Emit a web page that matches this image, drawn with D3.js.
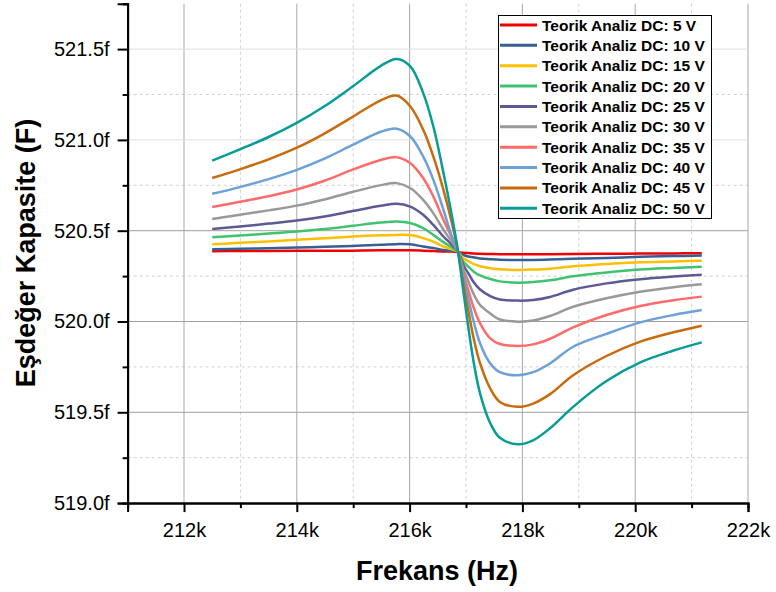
<!DOCTYPE html>
<html>
<head>
<meta charset="utf-8">
<script src="https://cdn.jsdelivr.net/npm/d3@7"></script>
<style>
  body { margin: 0; background: #fff; }
  svg { font-family: Arial, "Liberation Sans", sans-serif; }
  .axis path, .axis line { stroke: #000; stroke-width: 2; }
  .axis text { font-size: 20px; fill: #000; }
</style>
</head>
<body>
<div id="chart"></div>
<script>
// frequency in kHz
const freqs = [212.5, 212.99, 213.5, 214.0, 214.49, 214.99, 215.49, 215.77, 216.01, 216.24,
  216.42, 216.6, 216.75, 216.86, 216.95, 217.04, 217.13, 217.25, 217.43, 217.6,
  217.92, 218.19, 218.49, 218.9, 219.49, 220.09, 220.68, 221.18];

// equivalent capacitance in fF, one array per DC voltage
const cap05 = [520.387, 520.388, 520.388, 520.389, 520.389, 520.390, 520.392, 520.392, 520.392, 520.390,
  520.388, 520.386, 520.385, 520.382, 520.379, 520.377, 520.375, 520.373, 520.372, 520.371,
  520.370, 520.370, 520.371, 520.372, 520.373, 520.374, 520.375, 520.376];
const cap10 = [520.398, 520.400, 520.404, 520.407, 520.412, 520.416, 520.422, 520.426, 520.425, 520.413,
  520.405, 520.394, 520.389, 520.383, 520.367, 520.358, 520.354, 520.347, 520.343, 520.340,
  520.339, 520.339, 520.341, 520.345, 520.350, 520.356, 520.360, 520.363];
const cap15 = [520.426, 520.433, 520.441, 520.450, 520.458, 520.468, 520.475, 520.477, 520.476, 520.459,
  520.440, 520.413, 520.397, 520.383, 520.349, 520.332, 520.317, 520.304, 520.293, 520.288,
  520.284, 520.286, 520.291, 520.304, 520.317, 520.326, 520.331, 520.335];
const cap20 = [520.464, 520.473, 520.484, 520.495, 520.509, 520.527, 520.545, 520.551, 520.542, 520.514,
  520.477, 520.437, 520.408, 520.383, 520.330, 520.302, 520.276, 520.254, 520.234, 520.221,
  520.214, 520.217, 520.227, 520.249, 520.270, 520.286, 520.295, 520.302];
const cap25 = [520.509, 520.523, 520.539, 520.556, 520.578, 520.608, 520.637, 520.648, 520.633, 520.588,
  520.532, 520.468, 520.422, 520.383, 520.312, 520.266, 520.219, 520.176, 520.140, 520.121,
  520.115, 520.118, 520.135, 520.175, 520.210, 520.233, 520.248, 520.258];
const cap30 = [520.564, 520.588, 520.612, 520.638, 520.672, 520.713, 520.751, 520.762, 520.735, 520.670,
  520.597, 520.505, 520.439, 520.383, 520.293, 520.222, 520.155, 520.091, 520.044, 520.011,
  519.999, 520.005, 520.030, 520.081, 520.128, 520.164, 520.189, 520.205];
const cap35 = [520.630, 520.659, 520.690, 520.727, 520.775, 520.836, 520.889, 520.905, 520.873, 520.790,
  520.689, 520.560, 520.461, 520.383, 520.266, 520.174, 520.081, 519.990, 519.907, 519.876,
  519.865, 519.874, 519.905, 519.968, 520.036, 520.085, 520.117, 520.137];
const cap40 = [520.703, 520.740, 520.784, 520.835, 520.897, 520.972, 521.045, 521.062, 521.020, 520.909,
  520.781, 520.615, 520.468, 520.383, 520.247, 520.128, 520.008, 519.879, 519.769, 519.721,
  519.704, 519.721, 519.769, 519.861, 519.932, 519.995, 520.036, 520.063];
const cap45 = [520.790, 520.838, 520.893, 520.957, 521.035, 521.127, 521.218, 521.244, 521.185, 521.057,
  520.909, 520.725, 520.542, 520.383, 520.211, 520.063, 519.916, 519.769, 519.631, 519.557,
  519.530, 519.548, 519.600, 519.704, 519.810, 519.889, 519.941, 519.977];
const cap50 = [520.886, 520.948, 521.016, 521.094, 521.185, 521.294, 521.408, 521.446, 521.406, 521.259,
  521.075, 520.819, 520.582, 520.383, 520.174, 519.971, 519.787, 519.603, 519.440, 519.360,
  519.324, 519.346, 519.412, 519.530, 519.672, 519.775, 519.840, 519.885];

const labels = ['Teorik Analiz DC: 5 V', 'Teorik Analiz DC: 10 V', 'Teorik Analiz DC: 15 V',
  'Teorik Analiz DC: 20 V', 'Teorik Analiz DC: 25 V', 'Teorik Analiz DC: 30 V',
  'Teorik Analiz DC: 35 V', 'Teorik Analiz DC: 40 V', 'Teorik Analiz DC: 45 V',
  'Teorik Analiz DC: 50 V'];
const colors = ['#f00000', '#365f93', '#fcc000', '#3fc36e', '#5b5a94',
  '#999999', '#ff6b6b', '#6ca0d8', '#c96a0c', '#079d96'];

const xMajor = [212, 214, 216, 218, 220, 222];
const xMinor = [211, 213, 215, 217, 219, 221];
const yMajor = [519.0, 519.5, 520.0, 520.5, 521.0, 521.5];
const yMinor = [519.25, 519.75, 520.25, 520.75, 521.25, 521.75];

const series = [cap05, cap10, cap15, cap20, cap25, cap30, cap35, cap40, cap45, cap50]
  .map((vals, i) => ({
    label: labels[i],
    color: colors[i],
    points: vals.map((v, j) => ({ f: freqs[j], c: v }))
  }));

const width = 776, height = 592;
const plot = { left: 127.6, right: 748, top: 3.7, bottom: 503.1 };

const svg = d3.select('#chart').append('svg')
  .attr('width', width).attr('height', height);

const x = d3.scaleLinear().domain([211, 222]).range([plot.left, plot.right]);
const y = d3.scaleLinear().domain([519, 521.75]).range([plot.bottom, plot.top]);

// grid
const grid = svg.append('g');
grid.selectAll('.vmin').data(xMinor.slice(1)).enter().append('line')
  .attr('x1', d => x(d)).attr('x2', d => x(d))
  .attr('y1', plot.top).attr('y2', plot.bottom)
  .attr('stroke', '#d0d0d0').attr('stroke-dasharray', '3,3');
grid.selectAll('.hmin').data(yMinor.slice(0, -1)).enter().append('line')
  .attr('x1', plot.left).attr('x2', plot.right)
  .attr('y1', d => y(d)).attr('y2', d => y(d))
  .attr('stroke', '#d0d0d0').attr('stroke-dasharray', '3,3');
grid.selectAll('.vmaj').data(xMajor).enter().append('line')
  .attr('x1', d => x(d)).attr('x2', d => x(d))
  .attr('y1', plot.top).attr('y2', plot.bottom)
  .attr('stroke', '#a8a8a8');
grid.selectAll('.hmaj').data(yMajor.slice(1)).enter().append('line')
  .attr('x1', plot.left).attr('x2', plot.right)
  .attr('y1', d => y(d)).attr('y2', d => y(d))
  .attr('stroke', d => d > 520.75 ? '#e0e0e0' : '#a0a0a0');

// curves
const line = d3.line()
  .x(d => x(d.f))
  .y(d => y(d.c))
  .curve(d3.curveCatmullRom.alpha(0.5));

svg.append('g').selectAll('path')
  .data(series)
  .enter().append('path')
    .attr('d', d => line(d.points))
    .attr('fill', 'none')
    .attr('stroke', d => d.color)
    .attr('stroke-width', 2.5);

// axes
svg.append('g').attr('class', 'axis')
  .attr('transform', 'translate(0,' + plot.bottom + ')')
  .call(d3.axisBottom(x).tickValues(xMinor).tickSize(5).tickFormat(''));
svg.append('g').attr('class', 'axis')
  .attr('transform', 'translate(0,' + plot.bottom + ')')
  .call(d3.axisBottom(x).tickValues(xMajor).tickSize(9).tickPadding(11)
    .tickFormat(d => d + 'k'));

svg.append('g').attr('class', 'axis')
  .attr('transform', 'translate(' + plot.left + ',0)')
  .call(d3.axisLeft(y).tickValues(yMinor).tickSize(5).tickFormat(''));
svg.append('g').attr('class', 'axis')
  .attr('transform', 'translate(' + plot.left + ',0)')
  .call(d3.axisLeft(y).tickValues(yMajor).tickSize(10).tickPadding(8)
    .tickFormat(d => d3.format('.1f')(d) + 'f'));

svg.selectAll('.axis .domain').attr('stroke-width', 2);

// axis titles
svg.append('text')
  .attr('x', 437).attr('y', 580)
  .attr('text-anchor', 'middle')
  .attr('font-size', 27).attr('font-weight', 'bold')
  .text('Frekans (Hz)');

svg.append('text')
  .attr('transform', 'translate(35,253) rotate(-90)')
  .attr('text-anchor', 'middle')
  .attr('font-size', 27).attr('font-weight', 'bold')
  .text('Eşdeğer Kapasite (F)');

// legend
const legend = svg.append('g');
legend.append('rect')
  .attr('x', 498.5).attr('y', 15.5).attr('width', 213).attr('height', 203)
  .attr('fill', '#fff').attr('stroke', '#000').attr('stroke-width', 1);

const rows = legend.selectAll('.row')
  .data(series)
  .enter().append('g')
    .attr('transform', (d, i) => 'translate(0,' + (25 + i * 20.37) + ')');
rows.append('line')
  .attr('x1', 500).attr('x2', 537)
  .attr('stroke', d => d.color).attr('stroke-width', 3);
rows.append('text')
  .attr('x', 542).attr('y', 5.5)
  .attr('font-size', 15.5).attr('font-weight', 'bold')
  .text(d => d.label);
</script>
</body>
</html>
